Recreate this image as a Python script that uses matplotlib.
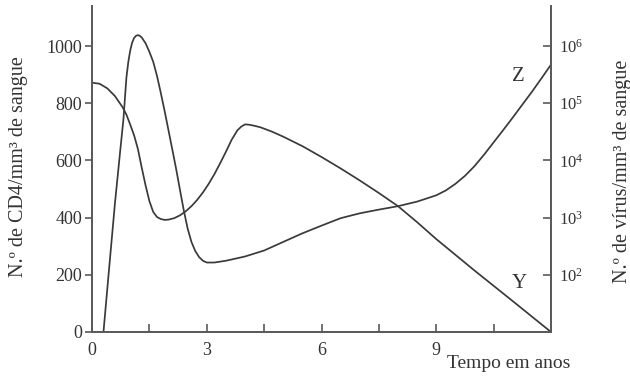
import matplotlib
matplotlib.use("Agg")
import matplotlib.pyplot as plt
from matplotlib.ticker import FixedLocator, NullLocator, FixedFormatter

plt.rcParams['font.family'] = ['Liberation Serif', 'DejaVu Serif']
plt.rcParams['mathtext.fontset'] = 'custom'
plt.rcParams['mathtext.rm'] = 'Liberation Serif'
plt.rcParams['mathtext.it'] = 'Liberation Serif:italic'

# Curve Y: CD4 cells per mm^3 of blood (left axis)
cd4_years = [0, 0.2, 0.4, 0.6, 0.8, 0.9, 1.0, 1.1, 1.2, 1.3, 1.4, 1.5, 1.6, 1.7,
             1.8, 1.9, 2.0, 2.15, 2.3, 2.45, 2.6, 2.75, 2.9, 3.05, 3.2, 3.35,
             3.5, 3.65, 3.8, 3.9, 4.0, 4.1, 4.25, 4.4, 4.7, 5.0, 5.5, 6.0, 6.5,
             7.0, 7.5, 8.0, 8.5, 9.0, 10.0, 11.0, 12.0]
cd4_values = [872, 868, 852, 825, 786, 760, 725, 688, 640, 575, 513, 458, 420, 402,
              395, 392, 393, 398, 408, 422, 440, 462, 488, 518, 552, 590,
              630, 672, 705, 718, 726, 725, 721, 716, 701, 683, 650, 612, 572,
              530, 486, 440, 384, 325, 215, 108, 0]

# Curve Z: virus per mm^3 of blood (right, log axis)
virus_years = [0.30, 0.45, 0.6, 0.75, 0.82, 0.9, 0.95, 1.0, 1.05, 1.1, 1.15, 1.2,
               1.25, 1.3, 1.4, 1.5, 1.6, 1.7, 1.8, 1.9, 2.0, 2.1, 2.2, 2.3, 2.4,
               2.5, 2.6, 2.7, 2.8, 2.9, 3.0, 3.2, 3.5, 4.0, 4.5, 5.0, 5.5, 6.0,
               6.5, 7.0, 7.5, 8.0, 8.5, 9.0, 9.25, 9.5, 9.75, 10.0, 10.25, 10.5,
               10.75, 11.0, 11.25, 11.5, 11.75, 12.0]
virus_values = [10, 135, 1780, 17800, 5.07e4, 2.82e5, 5.31e5, 8.41e5, 1.15e6,
                1.38e6, 1.51e6, 1.55e6, 1.51e6, 1.41e6, 1.12e6, 7.94e5, 5.31e5,
                2.99e5, 1.5e5, 7.24e4, 3.35e4, 1.55e4, 7080, 3055, 1333, 646, 376,
                260, 204, 176, 164, 164, 176, 209, 266, 376, 531, 724, 977, 1189,
                1380, 1585, 1905, 2455, 2985, 3890, 5370, 7940, 1.26e4, 2.07e4,
                3.39e4, 5.62e4, 9.44e4, 1.58e5, 2.72e5, 4.73e5]

x_major = [0, 3, 6, 9]
x_minor = [1.5, 4.5, 7.5, 10.5]
left_ticks = [0, 200, 400, 600, 800, 1000]
right_ticks = [1e2, 1e3, 1e4, 1e5, 1e6]
right_labels = [r'$10^{2}$', r'$10^{3}$', r'$10^{4}$', r'$10^{5}$', r'$10^{6}$']

line_c = '#3a3a3a'
spine_c = '#5a5a5a'
text_c = '#333333'

fig = plt.figure(figsize=(6.3, 3.81), dpi=100)
ax = fig.add_axes([92/630, 1-332/381, (551-92)/630, (332-6)/381])
ax2 = ax.twinx()

ax.plot(cd4_years, cd4_values, color=line_c, lw=1.25, solid_joinstyle='round')
ax2.plot(virus_years, virus_values, color=line_c, lw=1.25, solid_joinstyle='round')

ax.set_xlim(0, 12)
ax.set_ylim(0, 1140)
ax2.set_yscale('log')
ax2.set_ylim(10, 10 ** (1 + 1140 / 200))

for a in (ax, ax2):
    a.spines['top'].set_visible(False)
    for s in ('left', 'right', 'bottom'):
        a.spines[s].set_color(spine_c)
        a.spines[s].set_linewidth(1.3)

ax.xaxis.set_major_locator(FixedLocator(x_major))
ax.xaxis.set_minor_locator(FixedLocator(x_minor))
ax.tick_params(axis='x', which='both', direction='in', length=6, width=1.2,
               color=spine_c, labelsize=13, labelcolor=text_c, pad=7)
ax.yaxis.set_major_locator(FixedLocator(left_ticks))
ax.tick_params(axis='y', which='major', direction='out', length=5, width=1.2,
               color=spine_c, labelsize=13, labelcolor=text_c, pad=2)

ax2.yaxis.set_major_locator(FixedLocator(right_ticks))
ax2.yaxis.set_major_formatter(FixedFormatter(right_labels))
ax2.yaxis.set_minor_locator(NullLocator())
ax2.tick_params(axis='y', which='major', direction='in', length=6, width=1.2,
                color=spine_c, labelsize=12, labelcolor=text_c, pad=6)

ax.text(11.14, 892, 'Z', fontsize=15, color=text_c, ha='center', va='center')
ax.text(11.16, 171, 'Y', fontsize=15, color=text_c, ha='center', va='center')

fig.text(570/630, 1-363/381, 'Tempo em anos', fontsize=14, color=text_c,
         ha='right', va='center')
fig.text(19/630, 1-167/381, 'N.º de CD4/mm³ de sangue', fontsize=14.5,
         color=text_c, rotation=90, ha='center', va='center')
fig.text(622/630, 1-171/381, 'N.º de vírus/mm³ de sangue', fontsize=14.5,
         color=text_c, rotation=90, ha='center', va='center')

fig.savefig('out.png', dpi=100)
